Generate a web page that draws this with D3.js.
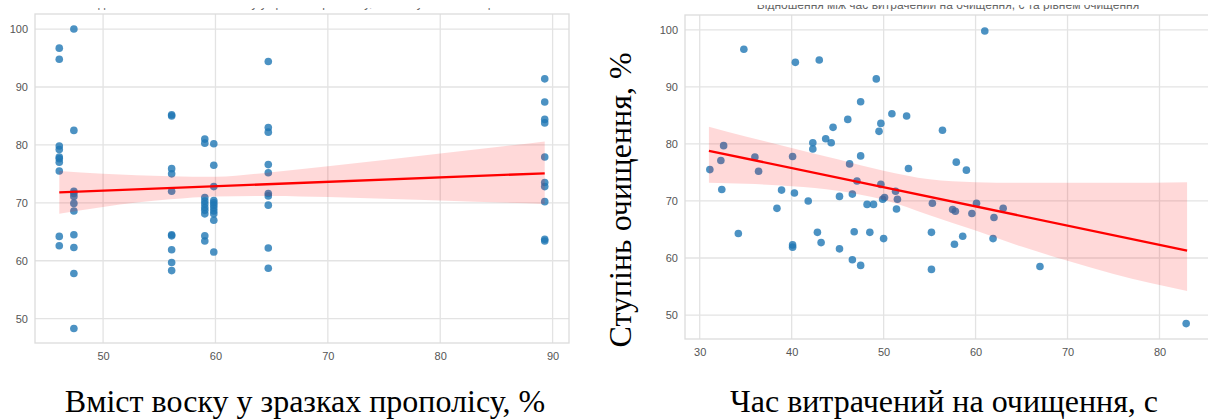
<!DOCTYPE html>
<html><head><meta charset="utf-8">
<script src="https://cdn.jsdelivr.net/npm/d3@7"></script>
<style>
html,body{margin:0;padding:0;background:#fff;}
svg{display:block;}
</style></head>
<body>
<svg id="chart" width="1208" height="419"></svg>
<script>
// ---------- DATA ----------
// Left chart: wax content (%) vs purification degree (%)
const waxX = [
  46.1,46.1,46.1,46.1,46.1,46.1,46.1,46.1,46.1,46.1,
  47.4,47.4,47.4,47.4,47.4,47.4,47.4,47.4,47.4,47.4,47.4,
  56.1,56.1,56.1,56.1,56.1,56.1,56.1,56.1,56.1,56.1,
  59.05,59.05,59.05,59.05,59.05,59.05,59.05,59.05,59.05,59.05,
  59.85,59.85,59.85,59.85,59.85,59.85,59.85,59.85,59.85,59.85,59.85,
  64.7,64.7,64.7,64.7,64.7,64.7,64.7,64.7,64.7,64.7,
  89.3,89.3,89.3,89.3,89.3,89.3,89.3,89.3,89.3,89.3
];
const waxY = [
  96.7,94.8,79.8,79.2,77.9,77.6,77.0,75.5,64.2,62.6,
  100.0,82.5,72.0,71.6,71.1,69.9,68.6,64.5,62.3,57.8,48.3,
  85.2,85.0,75.9,75.0,72.0,64.5,64.3,61.9,59.7,58.3,
  81.0,80.3,70.9,70.3,69.8,69.2,68.7,68.1,64.3,63.4,
  80.2,76.5,72.8,70.4,70.0,69.6,69.1,68.6,68.1,67.0,61.5,
  94.4,83.0,82.2,76.6,75.2,71.6,71.2,69.6,62.2,58.7,
  91.4,87.4,84.4,83.8,77.9,73.5,72.8,70.2,63.7,63.4
];
// Left regression line and confidence band
const waxLineX = [46.1, 89.3];
const waxLineY = [71.8, 75.1];
const waxBandX  = [46.1, 50, 56, 60, 65, 70, 80, 89.3];
const waxBandLo = [68.1, 69.3, 70.6, 71.1, 71.2, 71.0, 70.4, 69.8];
const waxBandHi = [75.5, 75.0, 74.6, 74.5, 75.3, 76.3, 78.5, 80.6];

// Right chart: cleaning time (s) vs purification degree (%)
const timeX = [
  34.8,40.4,43.0,31.1,32.3,32.6,32.4,34.2,36.0,36.4,38.4,38.9,40.1,40.3,40.1,40.1,41.8,42.3,42.3,42.8,
  43.2,43.7,44.3,44.5,45.2,45.2,46.1,46.3,46.6,46.8,46.6,47.1,47.5,47.5,47.5,
  49.2,49.7,49.5,50.9,52.5,49.7,49.9,50.1,48.2,48.9,48.5,50.0,51.3,51.5,52.7,51.4,
  56.4,55.3,55.2,55.2,57.9,59.0,57.5,57.8,57.7,58.6,59.6,60.1,61.0,62.0,61.9,63.0,67.0,82.9
];
const timeY = [
  96.6,94.3,94.7,75.5,77.1,79.7,72.0,64.3,77.7,75.2,68.7,71.9,77.8,71.4,61.9,62.3,70.0,80.2,79.1,64.5,
  62.7,80.9,80.2,82.9,70.8,61.6,84.3,76.5,71.2,64.6,59.7,73.5,87.4,77.9,58.7,
  91.4,83.6,82.2,85.3,84.9,72.9,70.3,70.6,69.4,69.4,64.5,63.4,71.7,70.3,75.7,68.6,
  82.4,69.6,64.5,58.0,76.8,75.4,68.5,68.2,62.4,63.8,67.8,69.6,99.8,67.1,63.4,68.7,58.5,48.5
];
const timeLineX = [31.0, 83.0];
const timeLineY = [78.8, 61.3];
const timeBandX  = [31, 35, 40, 45, 50, 55, 60, 65, 70, 75, 83];
const timeBandLo = [73.2, 73.0, 72.6, 71.8, 70.2, 67.5, 64.8, 62.0, 59.5, 57.2, 54.2];
const timeBandHi = [83.0, 81.3, 79.3, 77.3, 75.3, 73.8, 73.3, 73.2, 73.2, 73.2, 73.3];

const leftXTicks  = [50, 60, 70, 80, 90];
const rightXTicks = [30, 40, 50, 60, 70, 80];
const yTicks      = [50, 60, 70, 80, 90, 100];

const leftTitle   = "Відношення між вмістом воску у зразках прополісу, % та ступенем очищення";
const rightTitle  = "Відношення між час витрачений на очищення, с та рівнем очищення";
const leftXLabel  = "Вміст воску у зразках прополісу, %";
const rightXLabel = "Час витрачений на очищення, с";
const rightYLabel = "Ступінь очищення, %";

// ---------- DRAW ----------
const svg = d3.select("#chart");
const gridColor = "#e3e3e3";
const tickFont = "'Liberation Sans', Arial, sans-serif";
const serif = "'Liberation Serif', 'Times New Roman', serif";

function panel(cfg) {
  const x = d3.scaleLinear().domain(cfg.xDomain).range([cfg.left, cfg.right]);
  const y = d3.scaleLinear().domain(cfg.yDomain).range([cfg.bottom, cfg.top]);
  const g = svg.append("g");

  const cid = "clip" + cfg.id;
  svg.append("clipPath").attr("id", cid).append("rect")
    .attr("x", cfg.left).attr("y", cfg.top)
    .attr("width", cfg.right - cfg.left).attr("height", cfg.bottom - cfg.top);

  // grid
  g.append("g").selectAll("line").data(cfg.xTicks).join("line")
    .attr("x1", d => x(d)).attr("x2", d => x(d))
    .attr("y1", cfg.top).attr("y2", cfg.bottom)
    .attr("stroke", gridColor).attr("stroke-width", 1.3);
  g.append("g").selectAll("line").data(yTicks).join("line")
    .attr("x1", cfg.left).attr("x2", cfg.right)
    .attr("y1", d => y(d)).attr("y2", d => y(d))
    .attr("stroke", gridColor).attr("stroke-width", 1.3);

  // axes via d3 axis (labels only)
  const xa = g.append("g").attr("transform", `translate(0,${cfg.bottom})`)
    .call(d3.axisBottom(x).tickValues(cfg.xTicks).tickSize(0).tickPadding(9));
  const ya = g.append("g").attr("transform", `translate(${cfg.left},0)`)
    .call(d3.axisLeft(y).tickValues(yTicks).tickSize(0).tickPadding(7));
  [xa, ya].forEach(a => {
    a.select(".domain").remove();
    a.selectAll("text").attr("fill", "#555").style("font-family", tickFont).style("font-size", "11px");
  });

  // points
  const pts = g.append("g").attr("clip-path", `url(#${cid})`);
  pts.selectAll("circle").data(cfg.px.map((d, i) => [d, cfg.py[i]])).join("circle")
    .attr("cx", d => x(d[0])).attr("cy", d => y(d[1])).attr("r", 3.8)
    .attr("fill", "#1f77b4").attr("fill-opacity", 0.8);

  // band
  const band = cfg.bandX.map((d, i) => ({x: d, lo: cfg.bandLo[i], hi: cfg.bandHi[i]}));
  g.append("path").datum(band)
    .attr("d", d3.area().x(d => x(d.x)).y0(d => y(d.lo)).y1(d => y(d.hi)).curve(d3.curveMonotoneX))
    .attr("fill", "#ff0000").attr("fill-opacity", 0.15);
  // line
  g.append("path").datum(cfg.lineX.map((d, i) => [d, cfg.lineY[i]]))
    .attr("d", d3.line().x(d => x(d[0])).y(d => y(d[1])))
    .attr("stroke", "#ff0000").attr("stroke-width", 2.3).attr("fill", "none");

  // frame
  g.append("rect").attr("x", cfg.left).attr("y", cfg.top)
    .attr("width", cfg.right - cfg.left).attr("height", cfg.bottom - cfg.top)
    .attr("fill", "none").attr("stroke", "#dcdcdc").attr("stroke-width", 1.3);

  // clipped title (mostly cut off at top of the image, as in the reference)
  const tcid = "tclip" + cfg.id;
  svg.append("clipPath").attr("id", tcid).append("rect")
    .attr("x", 0).attr("y", cfg.titleClip).attr("width", 1208).attr("height", 6);
  svg.append("text").attr("clip-path", `url(#${tcid})`)
    .attr("x", (cfg.left + cfg.right) / 2).attr("y", cfg.titleY)
    .attr("text-anchor", "middle").attr("fill", "#666")
    .style("font-family", tickFont).style("font-size", "12px")
    .text(cfg.title);

  // x label
  svg.append("text").attr("x", cfg.xLabelX).attr("y", 412)
    .attr("text-anchor", "middle").attr("fill", "#000")
    .style("font-family", serif).style("font-size", "32px")
    .text(cfg.xLabel);
  return {x, y};
}

panel({
  id: "L", left: 35, right: 569, top: 14, bottom: 343,
  xDomain: [43.94, 91.46], yDomain: [45.8, 102.6],
  xTicks: leftXTicks, px: waxX, py: waxY,
  lineX: waxLineX, lineY: waxLineY, bandX: waxBandX, bandLo: waxBandLo, bandHi: waxBandHi,
  title: leftTitle, titleY: 7, titleClip: 8,
  xLabel: leftXLabel, xLabelX: 305
});
panel({
  id: "R", left: 685, right: 1211, top: 15, bottom: 339,
  xDomain: [28.4, 85.6], yDomain: [45.8, 102.6],
  xTicks: rightXTicks, px: timeX, py: timeY,
  lineX: timeLineX, lineY: timeLineY, bandX: timeBandX, bandLo: timeBandLo, bandHi: timeBandHi,
  title: rightTitle, titleY: 9, titleClip: 5,
  xLabel: rightXLabel, xLabelX: 944
});

// rotated y label for right chart
svg.append("text")
  .attr("transform", "translate(631,200) rotate(-90)")
  .attr("text-anchor", "middle").attr("fill", "#000")
  .style("font-family", serif).style("font-size", "32px")
  .text(rightYLabel);
</script>
</body></html>
